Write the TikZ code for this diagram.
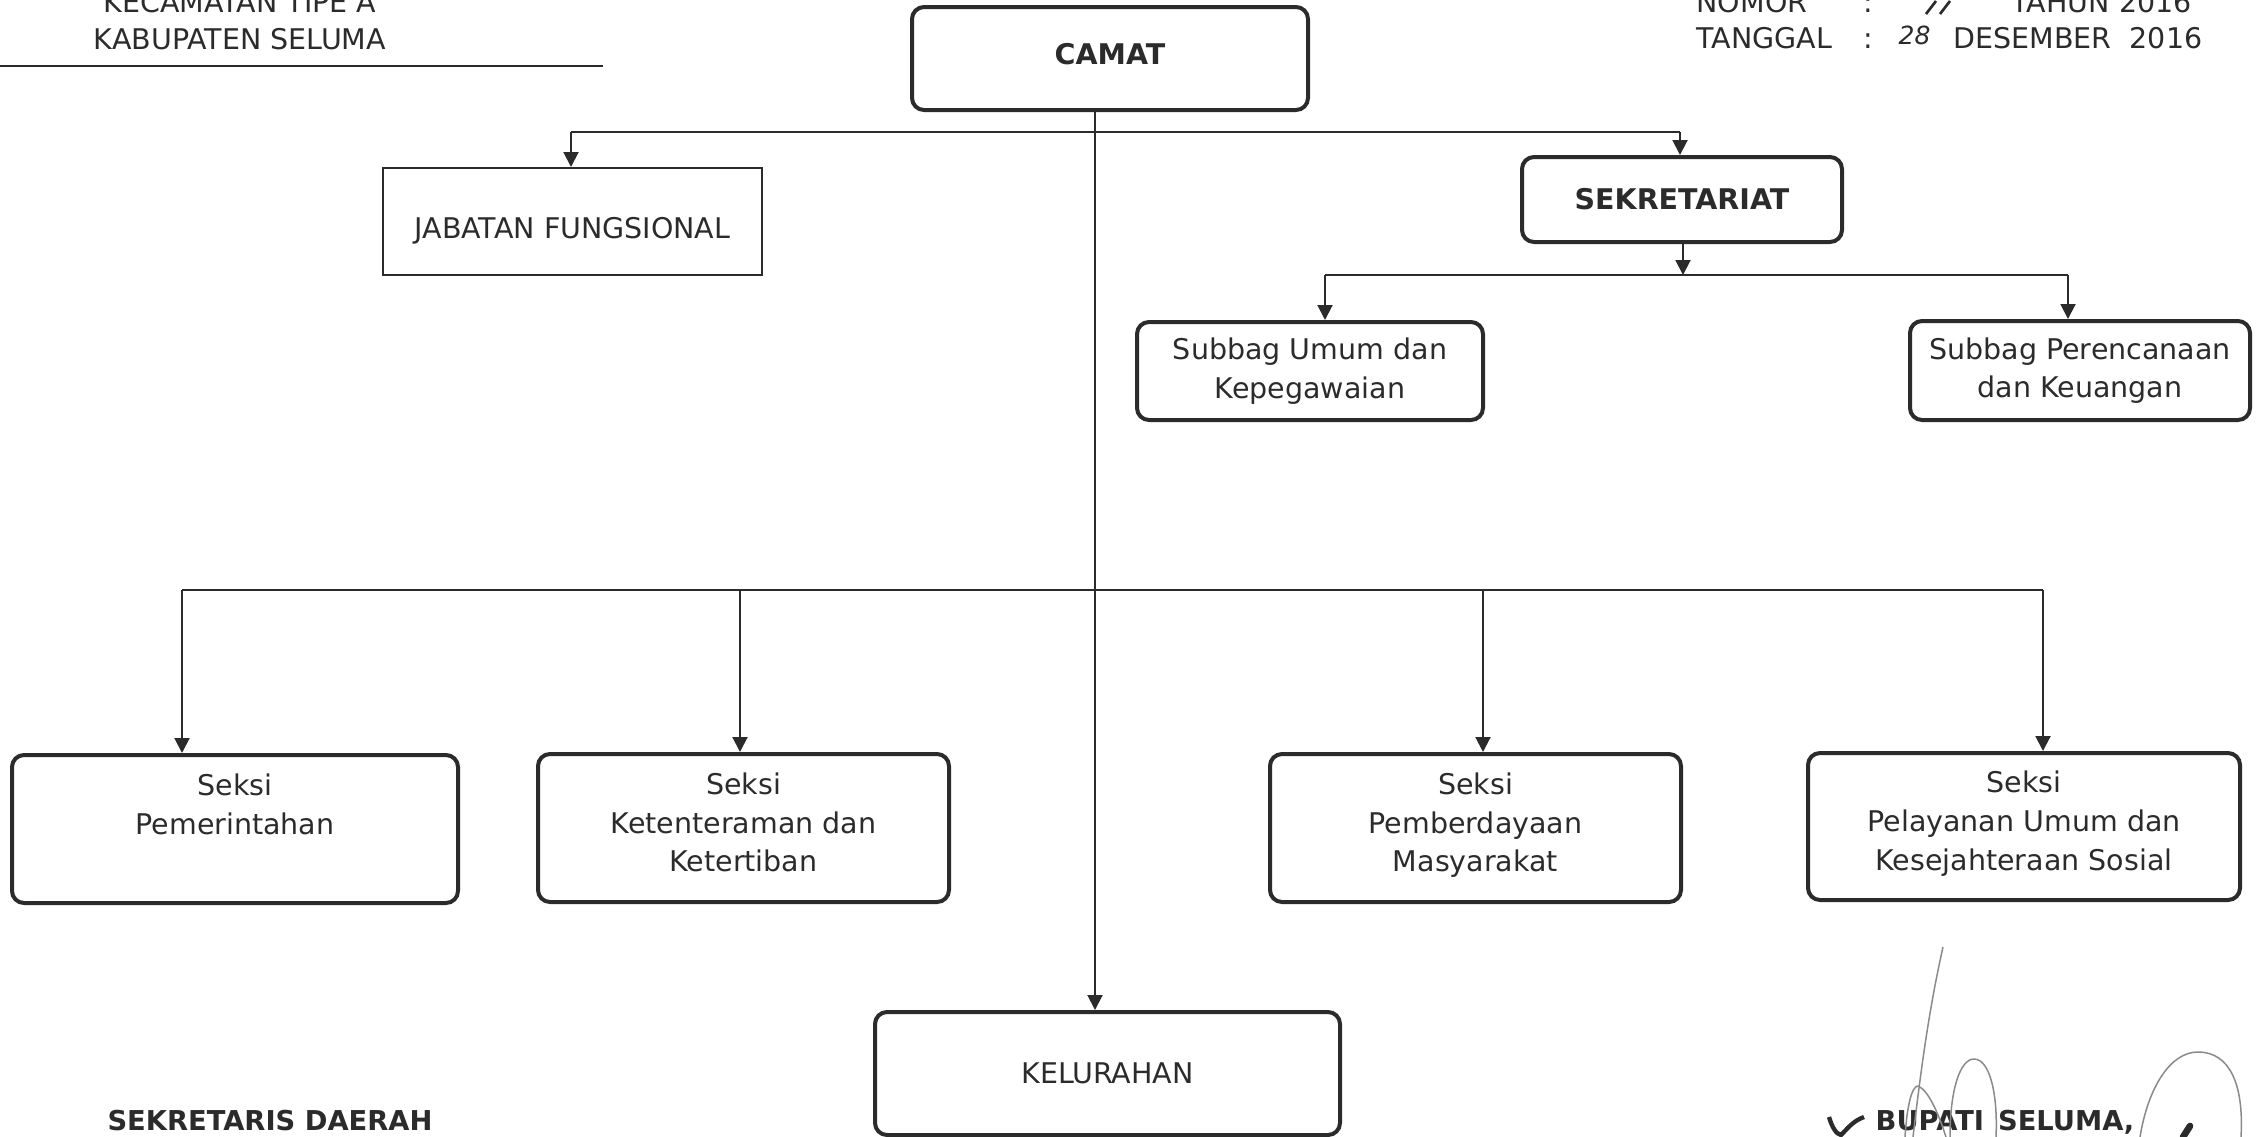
\documentclass[tikz,border=0pt]{standalone}
\usepackage{fontspec}
\setmainfont{DejaVu Sans}
\usetikzlibrary{arrows.meta}
\definecolor{ink}{HTML}{2B2B2B}
\definecolor{sigink}{HTML}{8A8A8A}
\tikzset{
  orgbox/.style={draw=ink, line width=1.2pt, rounded corners=3.6pt, align=center, inner sep=0pt},
  plainbox/.style={draw=ink, line width=0.6pt, align=center, inner sep=0pt},
  link/.style={draw=ink, line width=0.6pt},
  arr/.style={link, -{Triangle[length=4.5pt,width=4.5pt]}},
  hdr/.style={anchor=base, inner sep=0pt},
  foot/.style={anchor=base, inner sep=0pt, font=\fontsize{8.2}{11}\selectfont\bfseries},
  sig/.style={draw=sigink, line width=0.45pt},
}
\begin{document}
\begin{tikzpicture}[x=0.3pt, y=-0.3pt, font=\fontsize{8.55}{11.6}\selectfont, text=ink]
\useasboundingbox (0,0) rectangle (2266,1137);

% header left
\node[hdr] (kec) at (240,12) {KECAMATAN TIPE A};
\node[hdr] (kab) at (240,49) {KABUPATEN SELUMA};
\coordinate (ulA) at (0,66);
\coordinate (ulB) at (603,66);
\draw[link] (ulA) -- (ulB);

% header right
\node[hdr, anchor=base west] (nomor) at (1696,12) {NOMOR};
\node[hdr] (nomc) at (1868,12) {:};
\node[hdr, anchor=base west] (tahun) at (2011,12) {TAHUN 2016};
\node[hdr, anchor=base west] (tgl) at (1696,48) {TANGGAL};
\node[hdr] (tglc) at (1868,48) {:};
\node[hdr, anchor=base west] (tgl28) at (1898,44) {\fontsize{7.5}{9}\selectfont\itshape 28};
\node[hdr, anchor=base west] (tglb) at (1953,48) {DESEMBER\ \ 2016};
\draw[ink, line width=0.8pt] (1926,14) -- (1936,1) (1940,14) -- (1950,1);

% boxes
\node[orgbox, minimum width=118.8pt, minimum height=30.9pt] (camat) at (1110,58.5)
  {\raisebox{1.2pt}[\height][\depth]{\bfseries CAMAT}};
\node[plainbox, minimum width=113.7pt, minimum height=32.1pt] (jab) at (572.5,221.5)
  {\raisebox{-2.8pt}[\height][\depth]{JABATAN FUNGSIONAL}};
\node[orgbox, minimum width=96pt, minimum height=25.5pt] (sekr) at (1682,199.5) {\bfseries SEKRETARIAT};
\node[orgbox, minimum width=103.8pt, minimum height=29.4pt] (su) at (1310,371) {Subbag Umum dan\\Kepegawaian};
\node[orgbox, minimum width=102pt, minimum height=29.7pt] (sp) at (2080,370.5) {Subbag Perencanaan\\dan Keuangan};
\node[orgbox, minimum width=133.8pt, minimum height=44.4pt] (s1) at (235,829) {Seksi\\Pemerintahan\\~\strut};
\node[orgbox, minimum width=123.3pt, minimum height=44.4pt] (s2) at (743.5,828) {Seksi\\Ketenteraman dan\\Ketertiban\strut};
\node[orgbox, minimum width=123.3pt, minimum height=44.4pt] (s3) at (1475.5,828) {Seksi\\Pemberdayaan\\Masyarakat\strut};
\node[orgbox, minimum width=129.6pt, minimum height=44.1pt] (s4) at (2024,826.5) {Seksi\\Pelayanan Umum dan\\Kesejahteraan Sosial\strut};
\node[orgbox, minimum width=139.5pt, minimum height=36.9pt] (kel) at (1107.5,1073.5) {KELURAHAN};

% connectors
\coordinate (vtop) at (1095,110);
\draw[arr] (vtop) -- (vtop |- kel.north);

\coordinate (t1) at (571,132);
\coordinate (t2) at (1680,132);
\draw[link] (t1) -- (t2);
\draw[arr] (t1) -- (t1 |- jab.north);
\draw[arr] (t2) -- (t2 |- sekr.north);

\coordinate (sb) at (1683,242);
\coordinate (sbl) at (1683,275);
\draw[arr] (sb) -- (sbl);
\coordinate (u1) at (1325,275);
\coordinate (u2) at (2068,275);
\draw[link] (u1) -- (u2);
\draw[arr] (u1) -- (u1 |- su.north);
\draw[arr] (u2) -- (u2 |- sp.north);

\coordinate (h1) at (182,590);
\coordinate (h2) at (740,590);
\coordinate (h3) at (1483,590);
\coordinate (h4) at (2043,590);
\draw[link] (h1) -- (h4);
\draw[arr] (h1) -- (h1 |- s1.north);
\draw[arr] (h2) -- (h2 |- s2.north);
\draw[arr] (h3) -- (h3 |- s3.north);
\draw[arr] (h4) -- (h4 |- s4.north);

% footer
\node[foot] (sekda) at (270,1130) {SEKRETARIS DAERAH};
\node[foot, anchor=base west] (bupati) at (1875,1130) {BUPATI\ \,SELUMA,};
\draw[ink, line width=1.3pt] (1829,1117) .. controls (1832,1127) and (1836,1134) .. (1841,1135)
  .. controls (1848,1128) and (1853,1121) .. (1864,1117);

% signature
\draw[sig] (1943,947) .. controls (1930,1005) and (1922,1060) .. (1913,1137);
\draw[sig] (1905,1137) .. controls (1907,1105) and (1912,1086) .. (1918,1086)
  .. controls (1928,1090) and (1938,1112) .. (1946,1137);
\draw[sig] (1950,1137) .. controls (1950,1090) and (1960,1059) .. (1974,1059)
  .. controls (1990,1059) and (1998,1095) .. (1996,1137);
\draw[sig] (2140,1137) .. controls (2148,1088) and (2170,1052) .. (2198,1052)
  .. controls (2230,1052) and (2244,1085) .. (2241,1137);
\draw[ink, line width=2pt, line cap=round] (2183,1137) -- (2190,1126);
\end{tikzpicture}
\end{document}
